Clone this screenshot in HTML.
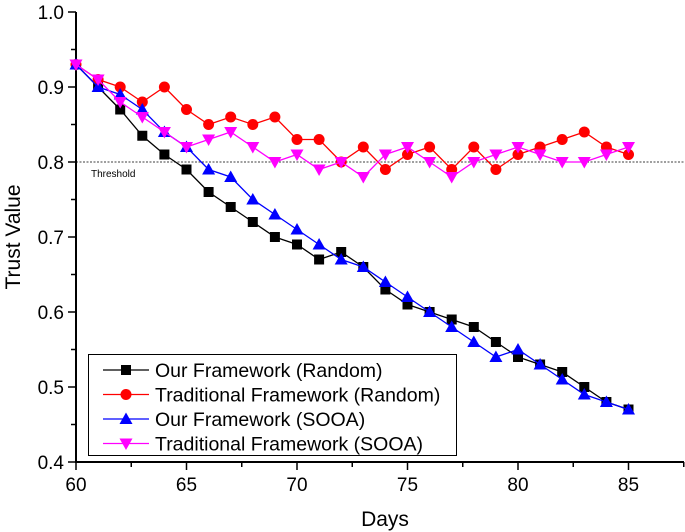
<!DOCTYPE html>
<html><head><meta charset="utf-8"><style>
html,body{margin:0;padding:0;background:#fff;}
svg{display:block;font-family:"Liberation Sans",Arial,sans-serif;}
</style></head><body>
<svg id="chart" width="685" height="532" viewBox="0 0 685 532" xmlns="http://www.w3.org/2000/svg"></svg>
<script>
const days = [60,61,62,63,64,65,66,67,68,69,70,71,72,73,74,75,76,77,78,79,80,81,82,83,84,85];
const ourRandom = [0.93,0.90,0.87,0.835,0.81,0.79,0.76,0.74,0.72,0.70,0.69,0.67,0.68,0.66,0.63,0.61,0.60,0.59,0.58,0.56,0.54,0.53,0.52,0.50,0.48,0.47];
const tradRandom = [0.93,0.91,0.90,0.88,0.90,0.87,0.85,0.86,0.85,0.86,0.83,0.83,0.80,0.82,0.79,0.81,0.82,0.79,0.82,0.79,0.81,0.82,0.83,0.84,0.82,0.81];
const ourSOOA = [0.93,0.90,0.89,0.87,0.84,0.82,0.79,0.78,0.75,0.73,0.71,0.69,0.67,0.66,0.64,0.62,0.60,0.58,0.56,0.54,0.55,0.53,0.51,0.49,0.48,0.47];
const tradSOOA = [0.93,0.91,0.88,0.86,0.84,0.82,0.83,0.84,0.82,0.80,0.81,0.79,0.80,0.78,0.81,0.82,0.80,0.78,0.80,0.81,0.82,0.81,0.80,0.80,0.81,0.82];
const xTicks = [60,65,70,75,80,85];
const yTicks = [0.4,0.5,0.6,0.7,0.8,0.9,1.0];
const threshold = 0.8;

const NS="http://www.w3.org/2000/svg";
const svg=document.getElementById('chart');
const X0=76, PXD=22.1, Y0=462, PXV=750;
const xs=d=>X0+(d-60)*PXD;
const ys=v=>Y0-(v-0.4)*PXV;
function mk(tag,attrs,parent){const e=document.createElementNS(NS,tag);for(const k in attrs)e.setAttribute(k,attrs[k]);(parent||svg).appendChild(e);return e;}

let th=mk('line',{x1:X0,x2:684,y1:ys(threshold),y2:ys(threshold),stroke:'#000','stroke-width':0.8,'stroke-dasharray':'2,1.5'});


let tt=mk('text',{x:91,y:ys(threshold)+15,'font-size':10,fill:'#000'});tt.textContent='Threshold';



let ax=mk('line',{x1:X0,x2:X0,y1:12,y2:Y0+1,stroke:'#000','stroke-width':2});


let bx=mk('line',{x1:X0-1,x2:684,y1:Y0,y2:Y0,stroke:'#000','stroke-width':2});


yTicks.forEach(v=>{
  mk('line',{x1:X0-8,x2:X0,y1:ys(v),y2:ys(v),stroke:'#000','stroke-width':1.5});
  let t=mk('text',{x:X0-12,y:ys(v)+7,'font-size':19,'text-anchor':'end'});t.textContent=v.toFixed(1);
  
  
  if(v<1.0) mk('line',{x1:X0-5,x2:X0,y1:ys(v+0.05),y2:ys(v+0.05),stroke:'#000','stroke-width':1.5});
});
xTicks.forEach(d=>{
  mk('line',{x1:xs(d),x2:xs(d),y1:Y0,y2:Y0+8,stroke:'#000','stroke-width':1.5});
  mk('line',{x1:xs(d+2.5),x2:xs(d+2.5),y1:Y0,y2:Y0+5,stroke:'#000','stroke-width':1.5});
  let t=mk('text',{x:xs(d),y:Y0+29,'font-size':19,'text-anchor':'middle'});t.textContent=d;
  
  
});
let xl=mk('text',{x:385,y:526,'font-size':21,'text-anchor':'middle'});xl.textContent='Days';


let yl=mk('text',{x:0,y:0,'font-size':21,'text-anchor':'middle',transform:'translate(20,237) rotate(-90)'});yl.textContent='Trust Value';



function marker(shape,color,x,y,g){
  if(shape==='sq') return mk('rect',{x:x-5,y:y-5,width:10,height:10,fill:color},g);
  if(shape==='ci') return mk('circle',{cx:x,cy:y,r:5.5,fill:color},g);
  if(shape==='up') return mk('polygon',{points:`${x},${y-6.5} ${x-6.5},${y+5} ${x+6.5},${y+5}`,fill:color},g);
  return mk('polygon',{points:`${x},${y+6.5} ${x-6.5},${y-5} ${x+6.5},${y-5}`,fill:color},g);
}
const series=[
  {name:'our-framework-random',vals:ourRandom,color:'#000',shape:'sq',label:'Our Framework (Random)'},
  {name:'traditional-framework-random',vals:tradRandom,color:'#f00',shape:'ci',label:'Traditional Framework (Random)'},
  {name:'our-framework-sooa',vals:ourSOOA,color:'#00f',shape:'up',label:'Our Framework (SOOA)'},
  {name:'traditional-framework-sooa',vals:tradSOOA,color:'#f0f',shape:'dn',label:'Traditional Framework (SOOA)'}
];
series.forEach(s=>{
  const g=mk('g',{});
  
  
  mk('polyline',{points:days.map((d,i)=>xs(d)+','+ys(s.vals[i])).join(' '),fill:'none',stroke:s.color,'stroke-width':1.3},g);
  days.forEach((d,i)=>{
    const m=marker(s.shape,s.color,xs(d),ys(s.vals[i]),g);
    
    
  });
});

const lg=mk('g',{});


mk('rect',{x:88.5,y:354.5,width:368,height:101,fill:'#fff',stroke:'#000','stroke-width':1},lg);
series.forEach((s,i)=>{
  const y=370+i*24.5;
  const e=mk('g',{},lg);
  
  
  mk('line',{x1:103,x2:149,y1:y,y2:y,stroke:s.color,'stroke-width':1.3},e);
  marker(s.shape,s.color,126,y,e);
  const t=mk('text',{x:155,y:y+7,'font-size':19.5},e);t.textContent=s.label;
});
</script>
</body></html>
